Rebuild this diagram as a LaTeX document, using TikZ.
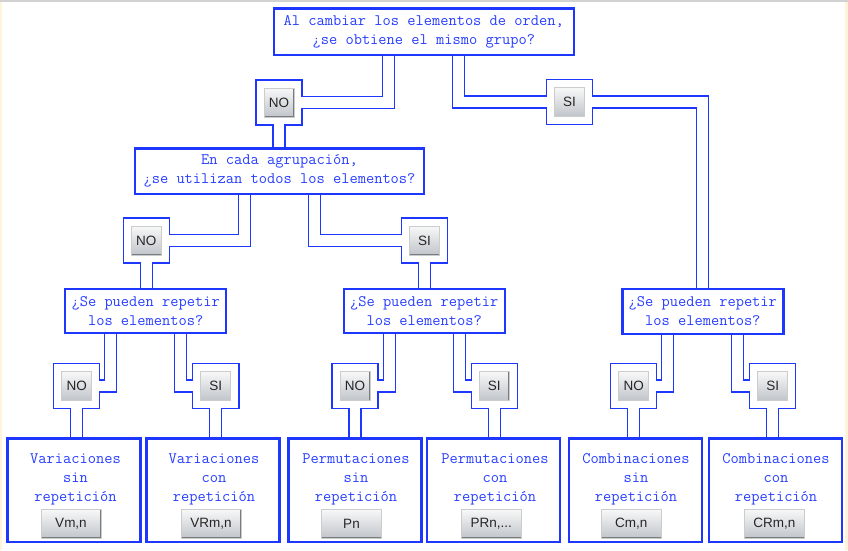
\documentclass[tikz,border=0pt]{standalone}
\usepackage{fontspec}
\newfontfamily\btnfont{Liberation Sans}
\definecolor{blu}{RGB}{30,55,255}
\definecolor{txtblu}{RGB}{40,62,255}
\definecolor{btntop}{RGB}{248,248,248}
\definecolor{btnbot}{RGB}{192,197,202}
\definecolor{btnedge}{RGB}{120,124,128}
\definecolor{edgebeige}{RGB}{255,244,218}
\pgfdeclarelayer{pipeout}
\pgfdeclarelayer{frameout}
\pgfdeclarelayer{pipein}
\pgfdeclarelayer{framein}
\pgfsetlayers{pipeout,frameout,pipein,framein,main}
\tikzset{
	ask/.style={draw=blu, line width=2.4pt, fill=white, text=txtblu,
		font=\ttfamily\fontsize{16}{19}\selectfont, align=center, inner sep=0pt,
		minimum width=161pt, minimum height=44.5pt},
	result/.style={draw=blu, line width=2.4pt, fill=white, inner sep=0pt,
		minimum width=133pt, minimum height=103.6pt},
	restext/.style={text=txtblu, font=\ttfamily\fontsize{16}{19}\selectfont,
		align=center, inner sep=0pt},
	frame/.style={minimum width=47pt, minimum height=46pt, inner sep=0pt},
	btn/.style={top color=btntop, bottom color=btnbot, draw=gray!40, line width=0.8pt,
		minimum width=30pt, minimum height=29pt, inner sep=0pt, text=black!85,
		font=\btnfont\fontsize{13.5}{14}\selectfont,
		path picture={\draw[btnedge, line width=1.6pt]
			(path picture bounding box.south west) -- (path picture bounding box.south east)
			-- (path picture bounding box.north east);}},
	pipeouter/.style={draw=blu, line width=13.3pt},
	pipeinner/.style={draw=white, line width=10.7pt},
}
% all tubes, drawn once in blue and once in white
\newcommand\pipework[1]{
	\draw[#1] ([xshift=-35pt]q1.center) |- (no1.center) -- (no1.center |- q2.center);
	\draw[#1] ([xshift=35pt]q1.center) |- (si1.center) -| (q5.center);
	\draw[#1] ([xshift=-35pt]q2.center) |- (no2.center) -- (no2.center |- q3.center);
	\draw[#1] ([xshift=35pt]q2.center) |- (si2.center) -- (si2.center |- q4.center);
	\draw[#1] ([xshift=-35pt]q3.center) |- (no3.center) -- (no3.center |- r1.center);
	\draw[#1] ([xshift=35pt]q3.center) |- (si3.center) -- (si3.center |- r2.center);
	\draw[#1] ([xshift=-35pt]q4.center) |- (no4.center) -- (no4.center |- r3.center);
	\draw[#1] ([xshift=35pt]q4.center) |- (si4.center) -- (si4.center |- r4.center);
	\draw[#1] ([xshift=-35pt]q5.center) |- (no5.center) -- (no5.center |- r5.center);
	\draw[#1] ([xshift=35pt]q5.center) |- (si5.center) -- (si5.center |- r6.center);
}
\begin{document}
\begin{tikzpicture}[x=1pt, y=-1pt]
	%questions
	\node[ask, minimum width=300pt, minimum height=46.3pt] (q1) at (423.8, 31.6)
		{Al cambiar los elementos de orden,\\¿se obtiene el mismo grupo?};
	\node[ask, minimum width=288.6pt, minimum height=45.3pt] (q2) at (279.5, 171.2)
		{En cada agrupación,\\¿se utilizan todos los elementos?};
	\node[ask] (q3) at (145.7, 311) {¿Se pueden repetir\\los elementos?};
	\node[ask] (q4) at (424.2, 311) {¿Se pueden repetir\\los elementos?};
	\node[ask] (q5) at (702.8, 311.5) {¿Se pueden repetir\\los elementos?};
	
	%answers
	\foreach \f/\x/\y/\t in {no1/279/102.5/NO, si1/569.5/102/SI, no2/146.3/240.5/NO,
		si2/424.5/240.5/SI, no3/76.7/386/NO, si3/215.8/386/SI, no4/355/386/NO,
		si4/494.2/386/SI, no5/633.7/386/NO, si5/772.7/386/SI}{
		\node[frame] (\f) at (\x, \y) {};
		\node[btn] (btn-\f) at (\f) {\t};
	}
	
	%results
	\node[result] (r1) at (73.8, 490.3) {};
	\node[result] (r2) at (213, 490.3) {};
	\node[result] (r3) at (355, 490.3) {};
	\node[result] (r4) at (493.5, 490.3) {};
	\node[result] (r5) at (635.5, 490.3) {};
	\node[result] (r6) at (775.2, 490.3) {};
	\node[restext] (r1t) at (75.5, 479.5) {Variaciones\\sin\\repetición};
	\node[restext] (r2t) at (214, 479.5) {Variaciones\\con\\repetición};
	\node[restext] (r3t) at (356, 479.5) {Permutaciones\\sin\\repetición};
	\node[restext] (r4t) at (495, 479.5) {Permutaciones\\con\\repetición};
	\node[restext] (r5t) at (636, 479.5) {Combinaciones\\sin\\repetición};
	\node[restext] (r6t) at (776, 479.5) {Combinaciones\\con\\repetición};
	\node[btn, minimum width=60pt] (r1b) at (71, 523.7) {Vm,n};
	\node[btn, minimum width=60pt] (r2b) at (211, 523.7) {VRm,n};
	\node[btn, minimum width=60pt] (r3b) at (351.5, 523.7) {Pn};
	\node[btn, minimum width=60pt] (r4b) at (491.3, 523.7) {PRn,...};
	\node[btn, minimum width=60pt] (r5b) at (631.3, 523.7) {Cm,n};
	\node[btn, minimum width=60pt] (r6b) at (774.3, 523.7) {CRm,n};
	
	\begin{pgfonlayer}{pipeout}
		\fill[white] (0,0) rectangle (848,550);
		\fill[gray!35] (0,0) rectangle (848,2);
		\fill[edgebeige] (0,2) rectangle (2,550);
		\fill[edgebeige] (845,2) rectangle (848,550);
		\pipework{pipeouter}
	\end{pgfonlayer}
	\begin{pgfonlayer}{frameout}
		\foreach \f in {no1,si1,no2,si2,no3,si3,no4,si4,no5,si5}
			\fill[blu] (\f.south west) rectangle (\f.north east);
	\end{pgfonlayer}
	\begin{pgfonlayer}{pipein}
		\pipework{pipeinner}
	\end{pgfonlayer}
	\begin{pgfonlayer}{framein}
		\foreach \f in {no1,si1,no2,si2,no3,si3,no4,si4,no5,si5}
			\fill[white] ([xshift=1.3pt,yshift=1.3pt]\f.south west)
				rectangle ([xshift=-1.3pt,yshift=-1.3pt]\f.north east);
	\end{pgfonlayer}
	\useasboundingbox (0,0) rectangle (848,550);
\end{tikzpicture}
\end{document}
